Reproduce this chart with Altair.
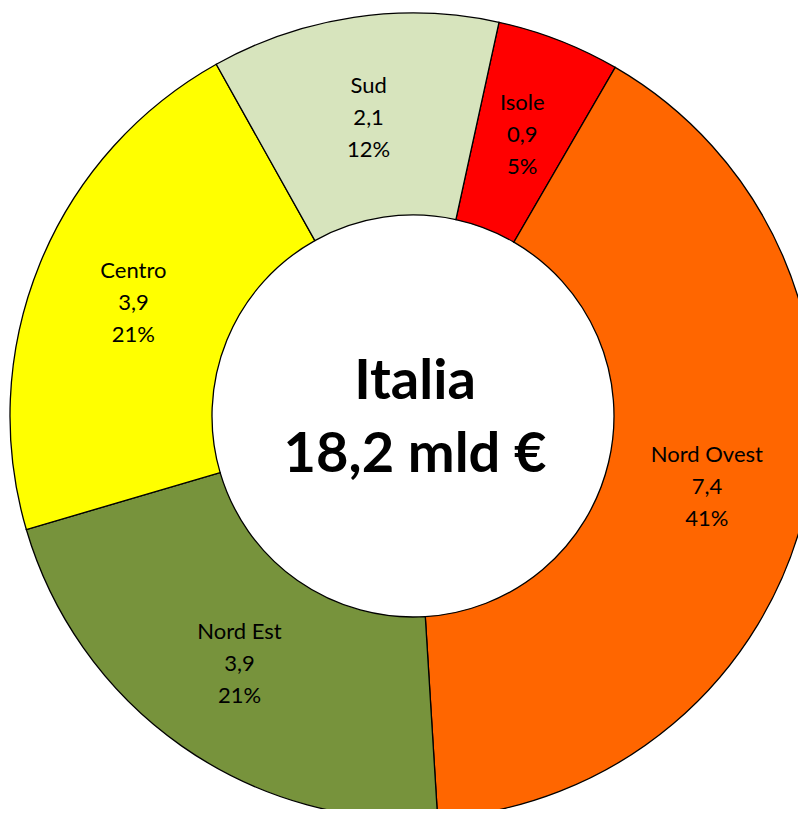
import math
import altair as alt
import pandas as pd

regions = ["Isole", "Nord Ovest", "Nord Est", "Centro", "Sud"]
values = [0.9, 7.4, 3.9, 3.9, 2.1]
value_labels = ["0,9", "7,4", "3,9", "3,9", "2,1"]
pct_labels = ["5%", "41%", "21%", "21%", "12%"]
colors = ["#FF0000", "#FF6600", "#77933C", "#FFFF00", "#D7E4BD"]
center_lines = ["Italia", "18,2 mld €"]

df = pd.DataFrame({
    "region": regions,
    "value": values,
    "order": list(range(len(regions))),
    "label": [f"{r}\n{v}\n{p}" for r, v, p in zip(regions, value_labels, pct_labels)],
})

start = 0.215
theta_scale = alt.Scale(range=[start, start + 2 * math.pi])
CX, CY = 405, 408

base = alt.Chart(df).encode(
    theta=alt.Theta("value:Q", stack=True, scale=theta_scale),
    order=alt.Order("order:Q"),
)

arcs = base.mark_arc(
    outerRadius=403, innerRadius=201, stroke="black", strokeWidth=1.3
).encode(
    color=alt.Color("region:N", scale=alt.Scale(domain=regions, range=colors), legend=None),
    x=alt.value(CX),
    y=alt.value(CY),
)

labels = base.mark_text(
    radius=302, font="Lato", fontSize=22, lineBreak="\n", lineHeight=32,
    align="center", baseline="middle", color="black", dy=-31,
).encode(text="label:N", x=alt.value(CX), y=alt.value(CY))

center_df = pd.DataFrame({"t": ["\n".join(center_lines)]})
center = alt.Chart(center_df).mark_text(
    font="Lato", fontSize=56, fontWeight="bold", lineBreak="\n", lineHeight=73,
    align="center", baseline="middle", color="black",
).encode(text="t:N", x=alt.value(CX + 2), y=alt.value(CY - 34))

chart = alt.layer(arcs, labels, center).properties(
    width=790, height=801,
    autosize=alt.AutoSizeParams(type="none"),
    padding=0,
).configure_view(stroke=None)

chart.save("out.html", embed_options={"renderer": "svg", "actions": False})
